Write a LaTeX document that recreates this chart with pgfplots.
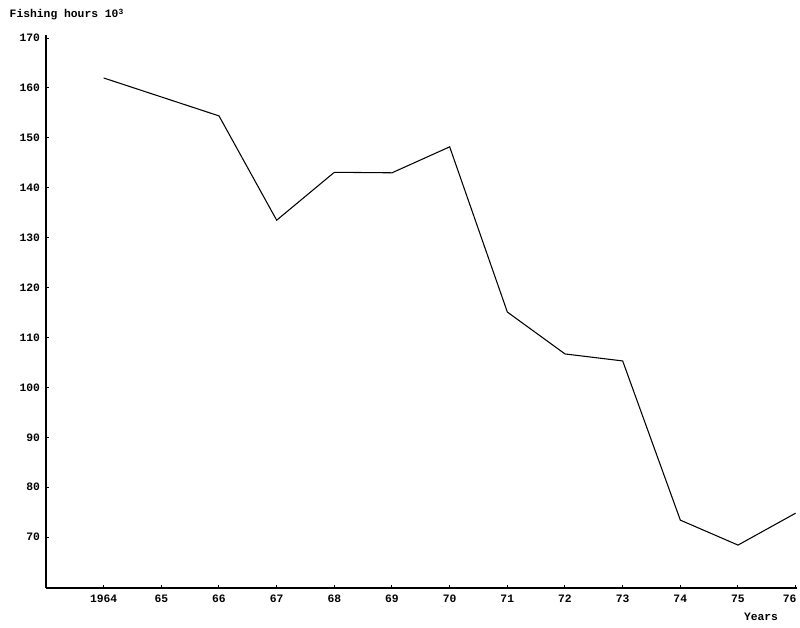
\documentclass[border=0pt]{standalone}
\usepackage{fontspec}
\setmainfont{Liberation Mono}
\usepackage{pgfplots}
\pgfplotsset{compat=1.18}
\newcommand{\lbl}{\fontsize{8.5}{10}\selectfont\bfseries}
\begin{document}
\begin{tikzpicture}
\useasboundingbox (0pt,0pt) rectangle (600pt,471pt);
\begin{axis}[
  at={(34.5pt,30pt)}, anchor=south west, scale only axis,
  width=563.55pt, height=414.7pt,
  xmin=1963, xmax=1976.03, ymin=59.8, ymax=170.6,
  axis x line*=bottom, axis y line*=left,
  axis line style={line width=1.9pt,-},
  xtick={1964,...,1976},
  xticklabels={1964,65,66,67,68,69,70,71,72,73,74,75,{76\hspace*{9pt}}},
  ytick={70,80,...,170},
  tick align=inside, major tick length=2.5pt,
  tick style={line width=0.75pt,black},
  /pgf/number format/assume math mode=true,
  /pgf/number format/1000 sep={},
  tick label style={font=\lbl},
  xticklabel style={yshift=-2pt},
  yticklabel style={xshift=-1pt},
]
\addplot[black, line width=0.8pt] coordinates {
(1964,162.0) (1965,158.2) (1966,154.4) (1967,133.5) (1968,143.1) (1969,143.0)
(1970,148.2) (1971,115.1) (1972,106.7) (1973,105.3) (1974,73.4) (1975,68.4) (1976,74.8)};
\end{axis}
\node[anchor=base west, font=\lbl] at (3.75pt,457.5pt) {Fishing hours 10\textsuperscript{3}};
\node[font=\lbl] at (570.75pt,8.25pt) {Years};
\end{tikzpicture}
\end{document}
